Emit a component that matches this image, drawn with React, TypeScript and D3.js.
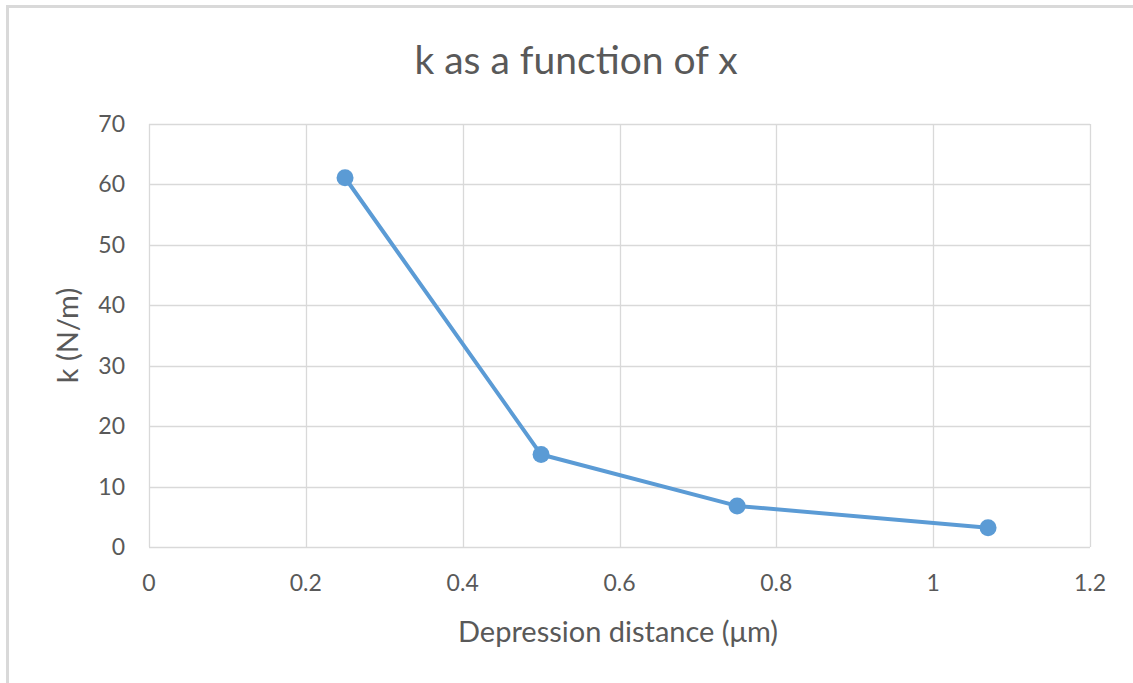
import { useEffect, useRef } from 'react';
import * as d3 from 'd3';

const depressionX = [0.25, 0.5, 0.75, 1.07];
const kValues = [61.1, 15.3, 6.8, 3.2];
const xTicks = [0, 0.2, 0.4, 0.6, 0.8, 1, 1.2];
const yTicks = [0, 10, 20, 30, 40, 50, 60, 70];

const W = 1133;
const H = 683;
const FONT = 'Lato, "Open Sans", sans-serif';
const TEXT = '#595959';
const BLUE = '#5b9bd5';

export default function App() {
  const svgRef = useRef<SVGSVGElement>(null);

  useEffect(() => {
    if (!svgRef.current) return;
    const svg = d3.select(svgRef.current);
    svg.selectAll('*').remove();

    const margin = { top: 124, right: 43, bottom: 136, left: 149 };
    const x = d3.scaleLinear().domain([0, 1.2]).range([margin.left, W - margin.right]);
    const y = d3.scaleLinear().domain([0, 70]).range([H - margin.bottom, margin.top]);

    svg.append('rect').attr('width', W).attr('height', H).attr('fill', '#fff');

    // outer chart border (only top/left visible in the crop)
    svg
      .append('path')
      .attr('d', `M7.5,${H} L7.5,6.5 L${W},6.5`)
      .attr('fill', 'none')
      .attr('stroke', '#d9d9d9')
      .attr('stroke-width', 3);

    // grid
    svg
      .append('g')
      .selectAll('line')
      .data(yTicks)
      .enter()
      .append('line')
      .attr('x1', x(0))
      .attr('x2', x(1.2))
      .attr('y1', (d) => Math.round(y(d)) + 0.5)
      .attr('y2', (d) => Math.round(y(d)) + 0.5)
      .attr('stroke', '#d9d9d9')
      .attr('stroke-width', 1.3);

    svg
      .append('g')
      .selectAll('line')
      .data(xTicks)
      .enter()
      .append('line')
      .attr('x1', (d) => Math.round(x(d)) + 0.5)
      .attr('x2', (d) => Math.round(x(d)) + 0.5)
      .attr('y1', y(0))
      .attr('y2', y(70))
      .attr('stroke', '#d9d9d9')
      .attr('stroke-width', 1.3);

    // tick labels
    svg
      .append('g')
      .selectAll('text')
      .data(yTicks)
      .enter()
      .append('text')
      .attr('x', margin.left - 24)
      .attr('y', (d) => y(d))
      .attr('dy', '0.35em')
      .attr('text-anchor', 'end')
      .style('font-family', FONT)
      .style('font-size', '23px')
      .style('fill', TEXT)
      .text((d) => d);

    svg
      .append('g')
      .selectAll('text')
      .data(xTicks)
      .enter()
      .append('text')
      .attr('x', (d) => x(d))
      .attr('y', y(0) + 36)
      .attr('dy', '0.35em')
      .attr('text-anchor', 'middle')
      .style('font-family', FONT)
      .style('font-size', '23px')
      .style('fill', TEXT)
      .text((d) => d3.format('~g')(d));

    // series
    const pts = depressionX.map((d, i) => [d, kValues[i]] as [number, number]);
    const line = d3
      .line<[number, number]>()
      .x((d) => x(d[0]))
      .y((d) => y(d[1]));

    svg
      .append('path')
      .datum(pts)
      .attr('d', line)
      .attr('fill', 'none')
      .attr('stroke', BLUE)
      .attr('stroke-width', 4)
      .attr('stroke-linejoin', 'round');

    svg
      .append('g')
      .selectAll('circle')
      .data(pts)
      .enter()
      .append('circle')
      .attr('cx', (d) => x(d[0]))
      .attr('cy', (d) => y(d[1]))
      .attr('r', 8.5)
      .attr('fill', BLUE);

    // titles
    svg
      .append('text')
      .attr('x', 576)
      .attr('y', 60)
      .attr('dy', '0.35em')
      .attr('text-anchor', 'middle')
      .style('font-family', FONT)
      .style('font-size', '39px')
      .style('fill', TEXT)
      .text('k as a function of x');

    svg
      .append('text')
      .attr('x', 618)
      .attr('y', 632)
      .attr('dy', '0.35em')
      .attr('text-anchor', 'middle')
      .style('font-family', FONT)
      .style('font-size', '29px')
      .style('fill', TEXT)
      .text('Depression distance (μm)');

    svg
      .append('text')
      .attr('transform', `translate(68, ${(y(0) + y(70)) / 2}) rotate(-90)`)
      .attr('dy', '0.35em')
      .attr('text-anchor', 'middle')
      .style('font-family', FONT)
      .style('font-size', '29px')
      .style('fill', TEXT)
      .text('k (N/m)');
  }, []);

  return (
    <svg
      ref={svgRef}
      width={W}
      height={H}
      style={{ position: 'absolute', left: 0, top: 0, display: 'block' }}
    />
  );
}
